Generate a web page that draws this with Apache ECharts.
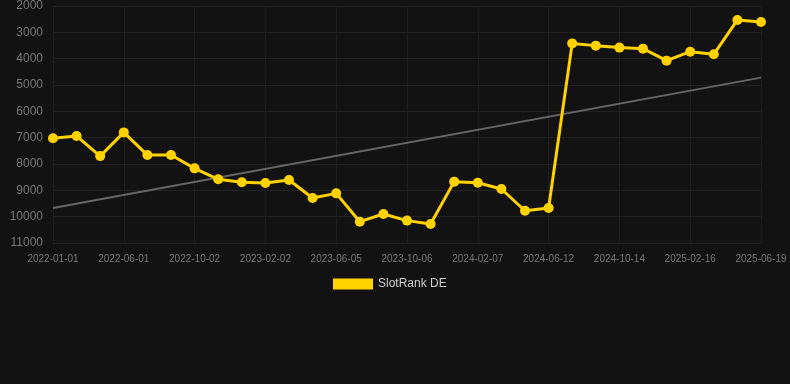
<!DOCTYPE html>
<html><head><meta charset="utf-8">
<script src="https://cdn.jsdelivr.net/npm/echarts@6/dist/echarts.min.js"></script>
<style>html,body{margin:0;padding:0;background:#121212;}#c{width:790px;height:384px;}</style>
</head><body><div id="c"></div>
<script>
var categories = ['2022-01-01','2022-02-20','2022-04-11','2022-06-01','2022-07-12','2022-08-22','2022-10-02','2022-11-12','2022-12-23','2023-02-02','2023-03-15','2023-04-25','2023-06-05','2023-07-16','2023-08-26','2023-10-06','2023-11-16','2023-12-27','2024-02-07','2024-03-19','2024-05-01','2024-06-12','2024-07-23','2024-09-02','2024-10-14','2024-11-24','2025-01-05','2025-02-16','2025-03-29','2025-05-09','2025-06-19'];
var rankValues = [7020,6940,7700,6800,7660,7660,8165,8580,8695,8720,8610,9290,9115,10190,9900,10150,10280,8670,8710,8950,9775,9670,3420,3505,3580,3620,4075,3735,3835,2530,2610];
var trendStart = 9670;
var trendEnd = 4720;
var yTicks = {min:2000, max:11000, step:1000};

var chart = echarts.init(document.getElementById('c'));
chart.setOption({
  backgroundColor:'#121212',
  animation:false,
  grid:{left:53, right:29, top:6, bottom:141, containLabel:false},
  legend:{
    data:[{name:'SlotRank DE', icon:'rect'}],
    top:278, left:333, padding:0,
    itemWidth:40, itemHeight:11, itemGap:5,
    textStyle:{color:'#cccccc', fontSize:12, fontFamily:'Liberation Sans, Arial, sans-serif'}
  },
  xAxis:{
    type:'category', data:categories, boundaryGap:false,
    axisLine:{show:true, lineStyle:{color:'#222222'}},
    axisTick:{show:false},
    axisLabel:{interval:2, color:'#777777', fontSize:10, margin:11, fontFamily:'Liberation Sans, Arial, sans-serif'},
    splitLine:{show:true, interval:2, lineStyle:{color:'#1e1e1e'}}
  },
  yAxis:{
    type:'value', inverse:true, min:yTicks.min, max:yTicks.max, interval:yTicks.step,
    axisLine:{show:false}, axisTick:{show:false},
    axisLabel:{color:'#777777', fontSize:12, margin:10, fontFamily:'Liberation Sans, Arial, sans-serif',
      formatter:function(v){return String(v);}},
    splitLine:{lineStyle:{color:'#222222'}}
  },
  series:[
    {
      name:'Trend', type:'line', data:(function(){var d=categories.map(function(){return null;}); d[0]=trendStart; d[d.length-1]=trendEnd; return d;})(),
      connectNulls:true, showSymbol:false, symbol:'none',
      lineStyle:{color:'#666666', width:2}, z:1, silent:true
    },
    {
      name:'SlotRank DE', type:'line', data:rankValues,
      symbol:'circle', symbolSize:10,
      itemStyle:{color:'#ffd200'},
      lineStyle:{color:'#ffd200', width:3}, z:3
    }
  ]
});
</script></body></html>
